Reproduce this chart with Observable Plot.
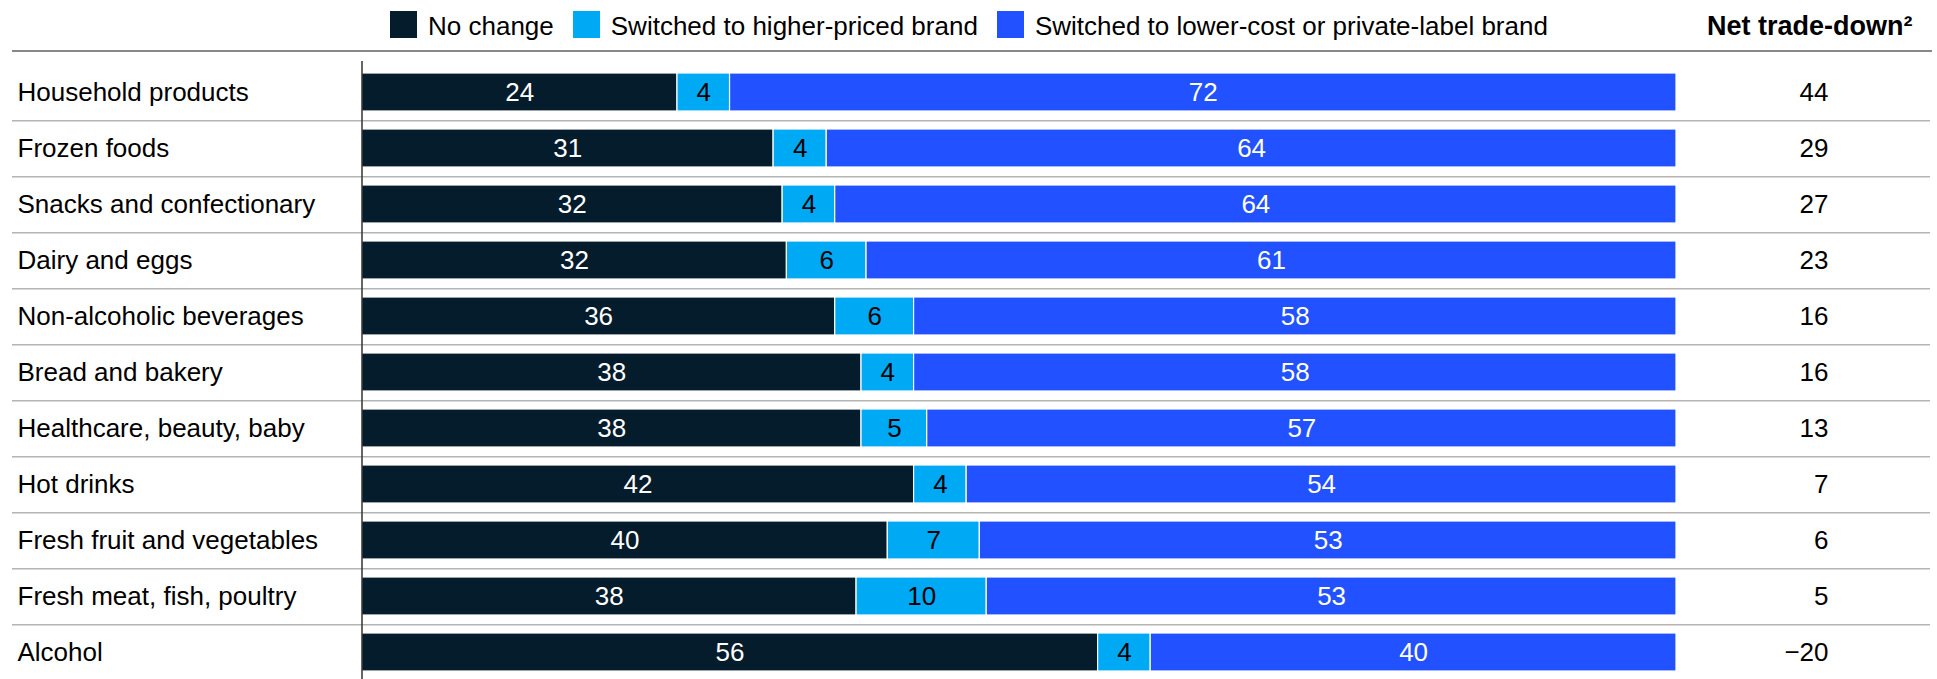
<!DOCTYPE html>
<html><head><meta charset="utf-8">
<script src="https://cdn.jsdelivr.net/npm/d3@7"></script>
<script src="https://cdn.jsdelivr.net/npm/@observablehq/plot@0.6"></script>
<style>
html,body{margin:0;padding:0;background:#fff;overflow:hidden;}
body{font-family:"Liberation Sans",Arial,Helvetica,sans-serif;color:#000;width:1937px;height:679px;}
#header{position:relative;height:52px;width:1937px;}
#legend{position:absolute;left:390px;top:10px;height:28px;display:flex;align-items:center;}
.item{display:flex;align-items:center;margin-right:19px;}
.sw{width:27px;height:27px;margin-right:11px;flex:none;}
.lab{font-size:26px;line-height:28px;position:relative;top:2px;white-space:nowrap;}
#net{position:absolute;left:1707px;top:12px;font-size:27px;line-height:28px;font-weight:bold;white-space:nowrap;}
#hline{position:absolute;left:12px;top:50px;width:1920px;height:2px;background:#888;}
#chart svg{display:block;}
</style></head><body>
<div id="header"><div id="legend"></div><div id="net"></div><div id="hline"></div></div>
<div id="chart"></div>
<script>
const categories = ["Household products","Frozen foods","Snacks and confectionary","Dairy and eggs","Non-alcoholic beverages","Bread and bakery","Healthcare, beauty, baby","Hot drinks","Fresh fruit and vegetables","Fresh meat, fish, poultry","Alcohol"];
const noChange = [24,31,32,32,36,38,38,42,40,38,56];
const higherPriced = [4,4,4,6,6,4,5,4,7,10,4];
const lowerCost = [72,64,64,61,58,58,57,54,53,53,40];
const netTradeDown = [44,29,27,23,16,16,13,7,6,5,-20];
const seriesNames = ["No change","Switched to higher-priced brand","Switched to lower-cost or private-label brand"];
const seriesColors = ["#051C2C","#00A9F4","#2251FF"];
const netHeader = "Net trade-down\u00B2";

// legend
const legend = document.getElementById("legend");
seriesNames.forEach((name, i) => {
  const item = document.createElement("div"); item.className = "item";
  const sw = document.createElement("div"); sw.className = "sw"; sw.style.background = seriesColors[i];
  const lab = document.createElement("span"); lab.className = "lab"; lab.textContent = name;
  item.appendChild(sw); item.appendChild(lab); legend.appendChild(item);
});
document.getElementById("net").textContent = netHeader;

const seriesValues = [noChange, higherPriced, lowerCost];
const table = categories.flatMap((c, i) => seriesNames.map((s, j) => ({category: c, series: s, value: seriesValues[j][i]})));
const netRows = categories.map((c, i) => ({category: c, net: netTradeDown[i]}));
const fmt = v => v < 0 ? "\u2212" + Math.abs(v) : String(v);

const step = 56.7, pad = 0.33;
const r0 = -1, r1 = r0 + step * (categories.length + pad);

const chart = Plot.plot({
  width: 1937, height: 627,
  marginTop: 9, marginBottom: 0, marginLeft: 12, marginRight: 7,
  x: {domain: [0, 1], range: [361.5, 1676], axis: null},
  y: {domain: categories, range: [r0, r1], padding: pad, axis: null},
  color: {domain: seriesNames, range: seriesColors},
  style: {fontFamily: '"Liberation Sans", Arial, Helvetica, sans-serif', fontSize: "26px", background: "white", color: "black", overflow: "visible"},
  marks: [
    Plot.ruleY(categories, {y: d => d, stroke: "#b4b4b4", strokeWidth: 1.5, dy: step / 2}),
    Plot.barX(table, Plot.stackX({x: "value", y: "category", fill: "series", offset: "normalize", stroke: "white", strokeWidth: 1.2})),
    Plot.ruleX([0], {stroke: "#333", strokeWidth: 1.5}),
    Plot.text(table, Plot.stackX({x: "value", y: "category", offset: "normalize", text: d => d.series === seriesNames[1] ? null : String(d.value), fill: "white", fontSize: 26})),
    Plot.text(table, Plot.stackX({x: "value", y: "category", offset: "normalize", text: d => d.series === seriesNames[1] ? String(d.value) : null, fill: "black", fontSize: 26})),
    Plot.text(categories, {y: d => d, text: d => d, frameAnchor: "left", textAnchor: "start", dx: 5, fill: "black", fontSize: 26}),
    Plot.text(netRows, {y: "category", text: d => fmt(d.net), frameAnchor: "right", textAnchor: "end", dx: -102, fill: "black", fontSize: 26})
  ]
});
document.getElementById("chart").appendChild(chart);
</script>
</body></html>
